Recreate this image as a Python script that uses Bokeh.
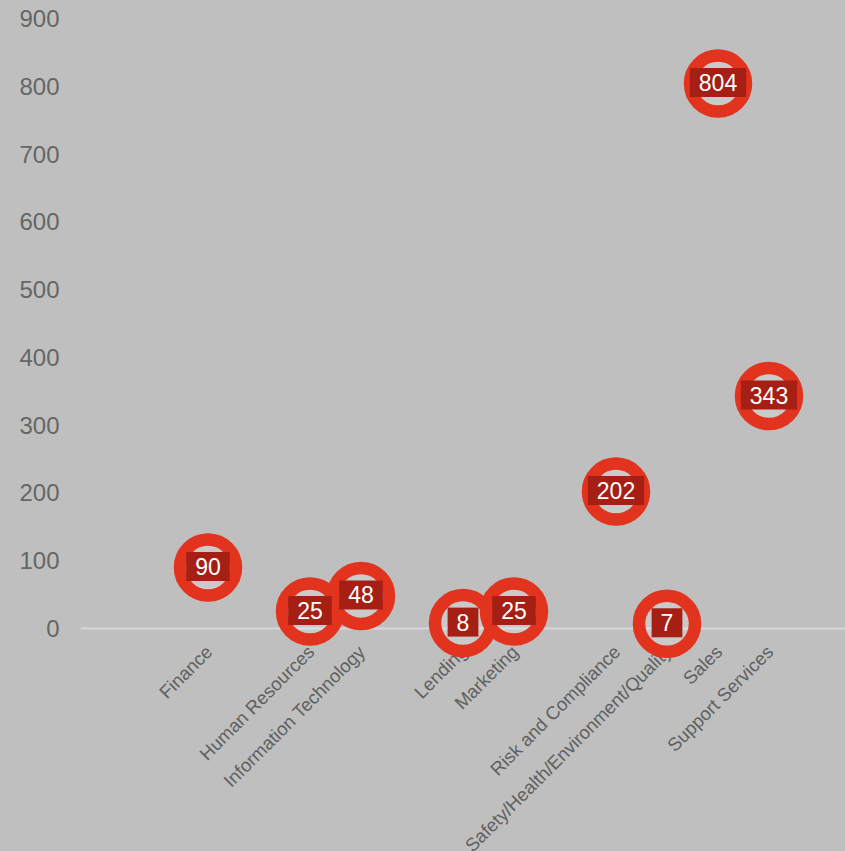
import math
from bokeh.plotting import figure
from bokeh.models import FactorRange, Range1d, FixedTicker, ColumnDataSource
from bokeh.core.properties import value
from bokeh.embed import file_html
from bokeh.resources import INLINE

# ---- data ----
categories = ["Finance", "Human Resources", "Information Technology", "Lending",
              "Marketing", "Risk and Compliance",
              "Safety/Health/Environment/Quality", "Sales", "Support Services"]
values = [90, 25, 48, 8, 25, 202, 7, 804, 343]
# category slots on the axis (blank slots have no data)
axis_slots = [" ", "  ", "Finance", "   ", "Human Resources", "Information Technology",
              "    ", "Lending", "Marketing", "     ", "Risk and Compliance",
              "Safety/Health/Environment/Quality", "Sales", "Support Services", "      "]
y_ticks = [0, 100, 200, 300, 400, 500, 600, 700, 800, 900]

BG = "#bfbfbf"
RED = "#e2331f"
DARK = "#a51f14"
FONT = "Liberation Sans"

p = figure(width=845, height=851, output_backend="svg", toolbar_location=None,
           x_range=FactorRange(factors=axis_slots, range_padding=0),
           y_range=Range1d(-329.0, 926.6),
           min_border=0, min_border_left=80)
p.styles = {"background-color": BG}
p.background_fill_color = BG
p.border_fill_color = BG
p.outline_line_color = None

p.xaxis.visible = False
p.xgrid.visible = False
p.ygrid.ticker = FixedTicker(ticks=[0])
p.ygrid.grid_line_color = "#d8d8d8"
p.ygrid.grid_line_width = 2

p.yaxis.ticker = FixedTicker(ticks=y_ticks)
p.yaxis.axis_line_color = None
p.yaxis.major_tick_line_color = None
p.yaxis.minor_tick_line_color = None
p.yaxis.major_label_text_font = FONT
p.yaxis.major_label_text_font_size = "24px"
p.yaxis.major_label_text_color = "#666666"
p.yaxis.major_label_standoff = 15

src = ColumnDataSource(dict(x=categories, y=values, zero=[0] * len(values),
                            lab=[str(v) for v in values]))

# category labels (rotated)
p.text(x="x", y="zero", text="x", source=src, angle=math.pi / 4,
       text_align="right", text_baseline="middle", x_offset=1, y_offset=20,
       text_font=value(FONT), text_font_size="18.5px", text_color="#606060")

# ring markers
p.scatter(x="x", y="y", source=src, marker="circle", size=56,
          line_color=RED, line_width=12.5, fill_color="white", fill_alpha=0.18)

# value labels
p.text(x="x", y="y", text="lab", source=src, text_align="center",
       text_baseline="middle", y_offset=-1, text_font=value(FONT),
       text_font_size="23px", text_color="white",
       background_fill_color=DARK, padding=(9, 6))

open("out.html", "w").write(file_html(p, INLINE))
